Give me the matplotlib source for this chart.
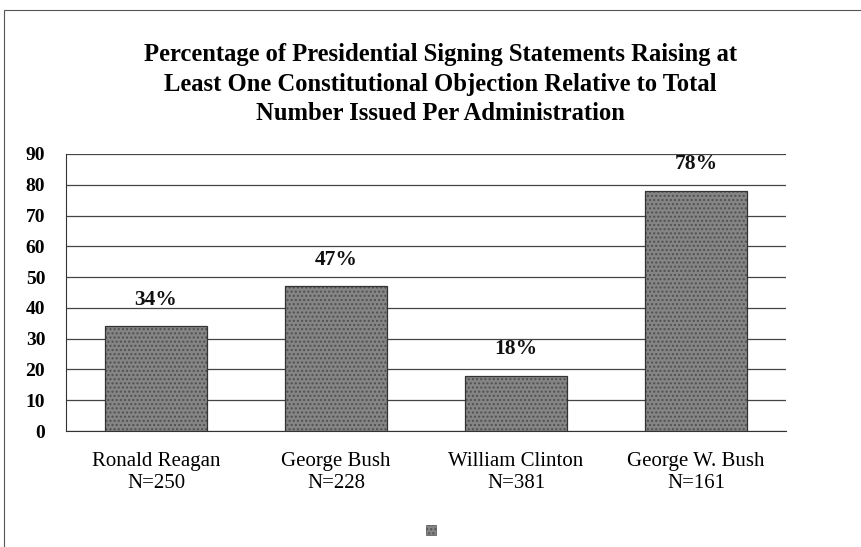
import matplotlib
matplotlib.use("Agg")
import matplotlib.pyplot as plt
from matplotlib.patches import Rectangle

# Data
presidents = ["Ronald Reagan", "George Bush", "William Clinton", "George W. Bush"]
n_issued = [250, 228, 381, 161]
pct_objection = [34, 47, 18, 78]
y_ticks = [0, 10, 20, 30, 40, 50, 60, 70, 80, 90]

title = ("Percentage of Presidential Signing Statements Raising at\n"
         "Least One Constitutional Objection Relative to Total\n"
         "Number Issued Per Administration")

plt.rcParams['font.family'] = ['Liberation Serif', 'DejaVu Serif']
plt.rcParams['hatch.linewidth'] = 1.0

fig = plt.figure(figsize=(8.62, 5.47), dpi=100)
ax = fig.add_axes([0.0766, 0.212, 0.8353, 0.5065])

x = list(range(len(presidents)))
# textured grey fill, then a dark outline on top
ax.bar(x, pct_objection, width=0.57, color='#858585', edgecolor='#505050',
       linewidth=0, hatch='....', zorder=3)
ax.bar(x, pct_objection, width=0.57, fill=False, edgecolor='#333333',
       linewidth=0.9, zorder=4)

for xi, v in zip(x, pct_objection):
    ax.annotate(f"{v}%", (xi, v), xytext=(0, 12), textcoords='offset points',
                ha='center', va='bottom', fontsize=15.5, fontweight='bold',
                color='#111111', zorder=5)

ax.set_xlim(-0.5, len(presidents) - 0.5)
ax.set_ylim(0, 90)
ax.set_yticks(y_ticks)
ax.set_yticklabels([str(t) for t in y_ticks], fontsize=14, fontweight='bold')
ax.set_xticks(x)
ax.set_xticklabels([f"{p}\nN={n}" for p, n in zip(presidents, n_issued)],
                   fontsize=15, linespacing=1.2)
ax.tick_params(axis='x', length=0, pad=15)
ax.tick_params(axis='y', length=0, pad=15)

ax.grid(axis='y', color='#444444', linewidth=0.9, zorder=0)
ax.spines['top'].set_visible(False)
ax.spines['right'].set_visible(False)
ax.spines['left'].set_color('#333333')
ax.spines['bottom'].set_color('#333333')

fig.text(0.511, 1 - 84 / 547, title, ha='center', va='center', fontsize=17.7,
         fontweight='bold', linespacing=1.38)

# outer frame of the chart object
fig.patches.append(Rectangle((4 / 862, -0.05), 1.2, 1.05 - 10 / 547,
                             transform=fig.transFigure, fill=False,
                             edgecolor='#555555', linewidth=0.8))

# legend swatch without text
fig.patches.append(Rectangle((426 / 862, 1 - 535 / 547), 10 / 862, 10 / 547,
                             transform=fig.transFigure, facecolor='#858585',
                             edgecolor='#505050', hatch='....', linewidth=0.5))

fig.savefig("out.png", dpi=100)
